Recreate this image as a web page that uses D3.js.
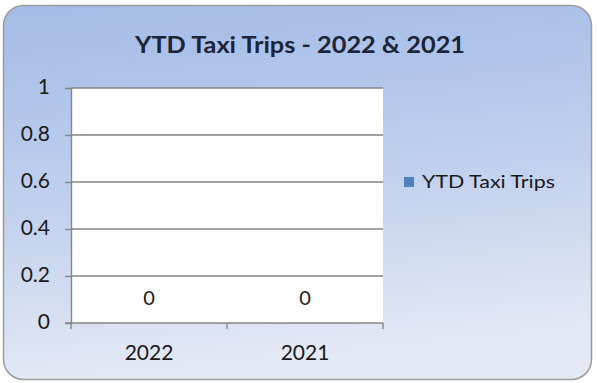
<!DOCTYPE html>
<html>
<head>
<meta charset="utf-8">
<script src="https://cdn.jsdelivr.net/npm/d3@7/dist/d3.min.js"></script>
<style>
  html, body { margin: 0; padding: 0; background: #ffffff; }
  svg { display: block; }
  text { font-family: Lato, "Open Sans", sans-serif; }
</style>
</head>
<body>
<svg id="chart" width="597" height="383"></svg>
<script>
// Chart data
const categories = ["2022", "2021"];
const seriesName = "YTD Taxi Trips";
const tripValues = [0, 0];
const yTicks = [0, 0.2, 0.4, 0.6, 0.8, 1];
const titleText = "YTD Taxi Trips - 2022 & 2021";

const svg = d3.select("#chart");

// Chart-area background: rounded frame with a soft blue vertical gradient
const defs = svg.append("defs");
const grad = defs.append("linearGradient")
  .attr("id", "bg").attr("x1", 0).attr("y1", 0).attr("x2", 0.15).attr("y2", 1);
grad.append("stop").attr("offset", "0%").attr("stop-color", "#a3bbe7");
grad.append("stop").attr("offset", "55%").attr("stop-color", "#c2d1ee");
grad.append("stop").attr("offset", "100%").attr("stop-color", "#e4e9f5");

svg.append("rect")
  .attr("x", 3.5).attr("y", 5.5)
  .attr("width", 588).attr("height", 374)
  .attr("rx", 20).attr("ry", 20)
  .attr("fill", "url(#bg)")
  .attr("stroke", "#9c9c9c").attr("stroke-width", 1.5);

// Plot area
const plot = { left: 71, right: 383, top: 88, bottom: 323 };

const x = d3.scaleBand().domain(categories).range([plot.left, plot.right]).padding(0);
const y = d3.scaleLinear().domain([0, 1]).range([plot.bottom, plot.top]);

svg.append("rect")
  .attr("x", plot.left).attr("y", plot.top)
  .attr("width", plot.right - plot.left).attr("height", plot.bottom - plot.top)
  .attr("fill", "#ffffff");

// Horizontal gridlines
svg.append("g").selectAll("line").data(yTicks.filter(d => d > 0)).join("line")
  .attr("x1", plot.left).attr("x2", plot.right)
  .attr("y1", d => y(d)).attr("y2", d => y(d))
  .attr("stroke", "#858585").attr("stroke-width", 1.4);

// Bars (value series)
svg.append("g").selectAll("rect").data(tripValues).join("rect")
  .attr("x", (d, i) => x(categories[i]) + x.bandwidth() * 0.25)
  .attr("width", x.bandwidth() * 0.5)
  .attr("y", d => y(d))
  .attr("height", d => y(0) - y(d))
  .attr("fill", "#4f81bd");

// Value labels
svg.append("g").selectAll("text").data(tripValues).join("text")
  .attr("x", (d, i) => x(categories[i]) + x.bandwidth() / 2)
  .attr("y", d => y(d) - 18)
  .attr("text-anchor", "middle")
  .attr("font-size", 20)
  .attr("fill", "#1a1a1a")
  .text(d => d3.format("~g")(d));

// Y axis
const yAxis = svg.append("g")
  .attr("transform", `translate(${plot.left},0)`)
  .call(d3.axisLeft(y).tickValues(yTicks).tickFormat(d3.format("~g"))
    .tickSizeInner(6).tickSizeOuter(0).tickPadding(15));
yAxis.select(".domain").attr("stroke", "#858585").attr("stroke-width", 1.4);
yAxis.selectAll(".tick line").attr("stroke", "#858585").attr("stroke-width", 1.4);
yAxis.selectAll(".tick text")
  .attr("font-size", 21).attr("fill", "#1a1a1a")
  .attr("font-family", "Lato, sans-serif")
  .attr("dy", "0.25em");

// X axis
const xAxis = svg.append("g")
  .attr("transform", `translate(0,${plot.bottom})`)
  .call(d3.axisBottom(x).tickSize(0).tickPadding(22));
xAxis.select(".domain").remove();
xAxis.selectAll(".tick text")
  .attr("font-size", 21).attr("fill", "#1a1a1a")
  .attr("font-family", "Lato, sans-serif");
svg.append("line")
  .attr("x1", plot.left - 6).attr("x2", plot.right)
  .attr("y1", plot.bottom).attr("y2", plot.bottom)
  .attr("stroke", "#858585").attr("stroke-width", 1.4);
// category boundary ticks
const bounds = categories.map(c => x(c)).concat([x(categories[categories.length - 1]) + x.bandwidth()]);
svg.append("g").selectAll("line").data(bounds).join("line")
  .attr("x1", d => d).attr("x2", d => d)
  .attr("y1", plot.bottom).attr("y2", plot.bottom + 6)
  .attr("stroke", "#858585").attr("stroke-width", 1.4);

// Title
svg.append("text")
  .attr("x", 300).attr("y", 53)
  .attr("text-anchor", "middle")
  .attr("font-size", 22).attr("font-weight", "bold")
  .attr("textLength", 330).attr("lengthAdjust", "spacingAndGlyphs")
  .attr("fill", "#1c2537")
  .text(titleText);

// Legend
const lg = svg.append("g").attr("transform", "translate(404,177)");
lg.append("rect").attr("width", 10).attr("height", 10).attr("fill", "#4f81bd");
lg.append("text")
  .attr("x", 18).attr("y", 10.5)
  .attr("font-size", 17).attr("fill", "#1a1a1a")
  .attr("textLength", 133).attr("lengthAdjust", "spacingAndGlyphs")
  .text(seriesName);
</script>
</body>
</html>
